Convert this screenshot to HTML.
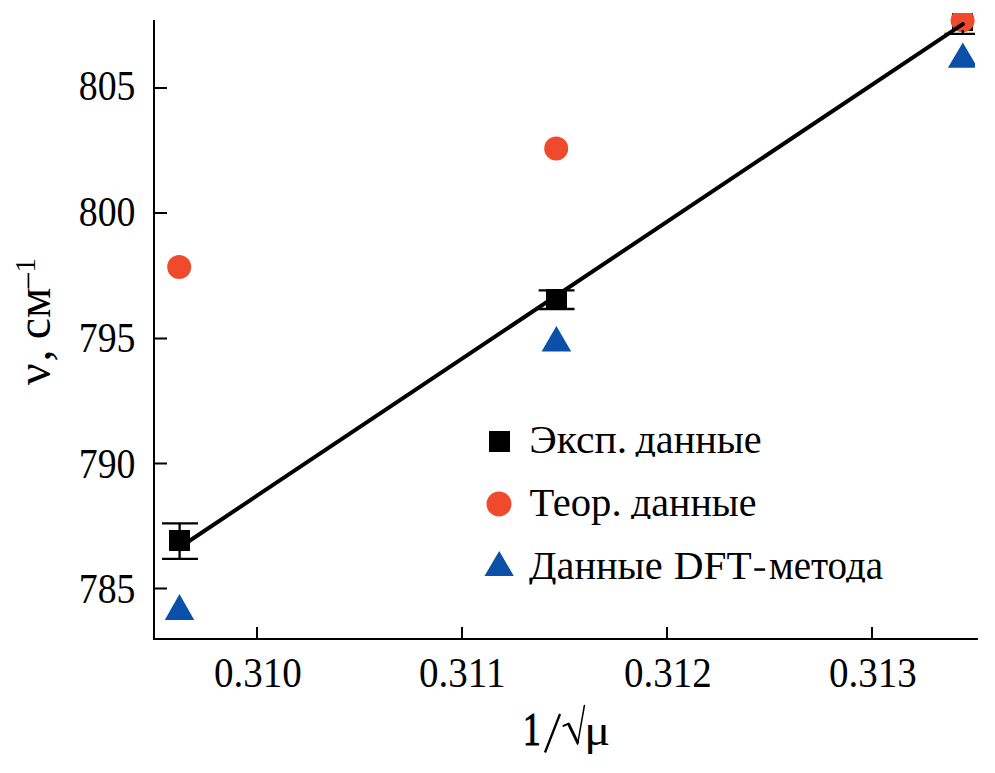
<!DOCTYPE html>
<html><head><meta charset="utf-8">
<style>
html,body{margin:0;padding:0;background:#fff;width:995px;height:773px;overflow:hidden}
svg{display:block}
text{font-family:"Liberation Serif",serif;fill:#000}
</style></head><body>
<svg width="995" height="773" viewBox="0 0 995 773">
<defs><clipPath id="pc"><rect x="154" y="13" width="821" height="626"/></clipPath>
<clipPath id="d1" clipPathUnits="userSpaceOnUse"><rect x="600" y="400" width="300" height="56.8"/></clipPath>
<clipPath id="d2" clipPathUnits="userSpaceOnUse"><rect x="600" y="470" width="300" height="49"/></clipPath>
<clipPath id="d3" clipPathUnits="userSpaceOnUse"><rect x="500" y="530" width="170" height="54.6"/></clipPath>
<clipPath id="d4" clipPathUnits="userSpaceOnUse"><rect x="760" y="530" width="200" height="52.4"/></clipPath>
</defs>
<rect x="0" y="0" width="995" height="773" fill="#fff"/>
<!-- axes -->
<g stroke="#000" stroke-width="2" fill="none">
<path d="M154 20 V640 M153 639 H978"/>
<path d="M154 88 H167 M154 213 H167 M154 338.5 H167 M154 463.5 H167 M154 588.5 H167"/>
<path d="M257 639 V627 M462 639 V627 M667 639 V627 M872 639 V627"/>
</g>
<!-- y tick labels -->
<g font-size="42" text-anchor="end">
<text transform="translate(135.5,99.6) scale(0.9,1)">805</text>
<text transform="translate(135.5,225.7) scale(0.9,1)">800</text>
<text transform="translate(135.5,352) scale(0.9,1)">795</text>
<text transform="translate(135.5,478) scale(0.9,1)">790</text>
<text transform="translate(135.5,603) scale(0.9,1)">785</text>
</g>
<!-- x tick labels -->
<g font-size="42">
<text transform="translate(214,686.8) scale(0.93,1)">0.310</text>
<text transform="translate(419,686.8) scale(0.93,1)">0.311</text>
<text transform="translate(624,686.8) scale(0.93,1)">0.312</text>
<text transform="translate(829,686.8) scale(0.93,1)">0.313</text>
</g>
<!-- axis titles -->
<text transform="translate(523,744.5) scale(0.75,1)" font-size="47" stroke="#000" stroke-width="1.1">1</text>
<path d="M545 752.5 L560 714" stroke="#000" stroke-width="2.3" fill="none"/>
<g stroke="#000" fill="none" stroke-linecap="round"><path d="M563.4 725.9 L568.6 723.6" stroke-width="1.9"/><path d="M568.4 723.6 L578 743.4" stroke-width="2.9" stroke-linecap="butt"/><path d="M577.6 744.2 L584.4 705.5" stroke-width="1.5"/></g>
<text transform="translate(584.3,745) scale(1.1,1)" font-size="44">μ</text>
<text transform="translate(50,385) rotate(-90)" font-size="48">ν<tspan dx="1.8">,</tspan><tspan dx="-1.8"> см</tspan></text>
<rect x="27.6" y="273" width="1.7" height="15.5" fill="#000"/>
<text transform="translate(34.9,272.5) rotate(-90)" font-size="29">1</text>
<!-- data -->
<g clip-path="url(#pc)">
<g fill="#000">
<rect x="169" y="530" width="21" height="21"/>
<rect x="546" y="289" width="21" height="20"/>
<rect x="952" y="10" width="21" height="21"/>
</g>
<g fill="#ee4a2b">
<circle cx="179.2" cy="267" r="12"/>
<circle cx="556.2" cy="148.6" r="12"/>
<circle cx="962.6" cy="20.2" r="12"/>
</g>
<g stroke="#000" stroke-width="2.3" fill="none">
<path d="M162 523.4 H198 M162 558.8 H198 M179.6 523.4 V558.8"/>
<path d="M538.6 290.3 H574.5 M538.6 309 H574.5 M556.5 290.3 V309"/>
<path d="M944.6 7 H980.6 M944.6 33.8 H980.6 M962.8 30 V33.8"/>
</g>
<line x1="179.5" y1="547.5" x2="962.8" y2="24.1" stroke="#000" stroke-width="4" stroke-linecap="round"/>
<g fill="#0a50a8">
<path d="M179.5 594 L194.2 620 L164.8 620 Z"/>
<path d="M556.4 325.9 L571.2 351.5 L541.6 351.5 Z"/>
<path d="M962.8 42.6 L977.6 67.8 L947.9 67.8 Z"/>
</g>
</g>
<!-- legend -->
<rect x="489" y="431" width="21" height="21" fill="#000"/>
<circle cx="499" cy="504" r="12.5" fill="#ee4a2b"/>
<path d="M499.2 551 L513.8 576 L484.5 576 Z" fill="#0a50a8"/>
<g font-size="39.5">
<text transform="translate(529.3,453.3) scale(1.055,1)">Эксп.</text>
<g clip-path="url(#d1)"><text transform="translate(635.4,453.3) scale(1.019,1)">данные</text></g>
<text transform="translate(529.5,515.5) scale(1.029,1)">Теор.</text>
<g clip-path="url(#d2)"><text transform="translate(630.9,515.5) scale(1.013,1)">данные</text></g>
<g clip-path="url(#d3)"><text transform="translate(529,578.5) scale(1.021,1)">Данные</text></g>
<text transform="translate(673.7,578.8) scale(1.044,1)">DFT</text>
<g clip-path="url(#d4)"><text transform="translate(769,578.5) scale(0.989,1)">метода</text></g>
</g>
<rect x="754.3" y="568.3" width="10.8" height="2.5" fill="#000"/>
</svg>
</body></html>
